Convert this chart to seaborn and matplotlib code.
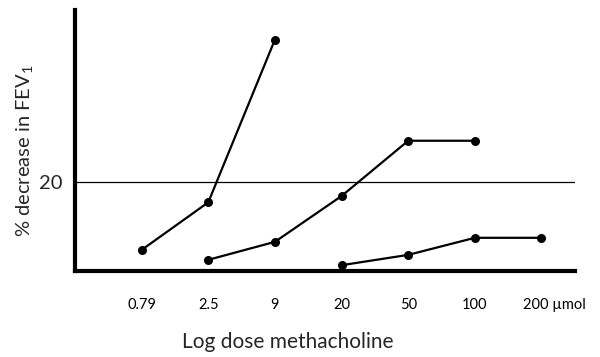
import matplotlib
matplotlib.use("Agg")
import matplotlib.pyplot as plt
from matplotlib.transforms import ScaledTranslation
import seaborn as sns
import pandas as pd

# dose levels shown on the x axis (umol)
doses = ["0.79", "2.5", "9", "20", "50", "100", "200 µmol"]

# three subjects, % decrease in FEV1 at each dose given
s1_doses = ["0.79", "2.5", "9"]
s1_vals = [4.8, 15.4, 51.6]
s2_doses = ["2.5", "9", "20", "50", "100"]
s2_vals = [2.6, 6.6, 16.8, 29.1, 29.1]
s3_doses = ["20", "50", "100", "200 µmol"]
s3_vals = [1.4, 3.7, 7.5, 7.5]

threshold = 20

rows = []
for name, ds, vs in [("A", s1_doses, s1_vals), ("B", s2_doses, s2_vals), ("C", s3_doses, s3_vals)]:
    for d, v in zip(ds, vs):
        rows.append({"subject": name, "x": doses.index(d) + 1, "val": v})
df = pd.DataFrame(rows)

sns.set_style("white")
plt.rcParams['font.family'] = ['Lato', 'DejaVu Sans']
plt.rcParams['mathtext.fontset'] = 'custom'
plt.rcParams['mathtext.rm'] = 'Lato'
plt.rcParams['mathtext.it'] = 'Lato'
plt.rcParams['mathtext.default'] = 'rm'

fig = plt.figure(figsize=(6, 3.57), dpi=100)
ax = fig.add_axes([0.125, 0.2395, 0.833, 0.7325])

sns.lineplot(data=df, x="x", y="val", hue="subject", palette=["black"] * 3,
             marker="o", markersize=6.5, markeredgewidth=0, linewidth=1.6,
             legend=False, ax=ax)

ax.axhline(threshold, color="black", linewidth=0.9)

ax.set_xlim(0, 7.5)
ax.set_ylim(0, 58.2)

ax.set_xticks(range(0, len(doses) + 1))
ax.set_xticklabels([""] + doses, fontsize=10.5)
ax.set_yticks([threshold])
ax.set_yticklabels([str(threshold)], fontsize=14.5)
ax.tick_params(axis="x", direction="out", length=7, width=2, pad=12, colors="black")
ax.tick_params(axis="y", length=0, pad=9)

# the last label carries the unit, nudge it right like the original
last = ax.get_xticklabels()[-1]
last.set_transform(last.get_transform() + ScaledTranslation(0.13, 0, fig.dpi_scale_trans))

for side in ["top", "right"]:
    ax.spines[side].set_visible(False)
for side in ["left", "bottom"]:
    ax.spines[side].set_linewidth(3)
    ax.spines[side].set_color("black")

ax.set_xlabel("Log dose methacholine", fontsize=15)
ax.set_ylabel("% decrease in FEV$_1$", fontsize=14.5)
ax.xaxis.set_label_coords(0.425, -0.23)
ax.yaxis.set_label_coords(-0.08, 0.461)

fig.savefig("out.png", dpi=100)
